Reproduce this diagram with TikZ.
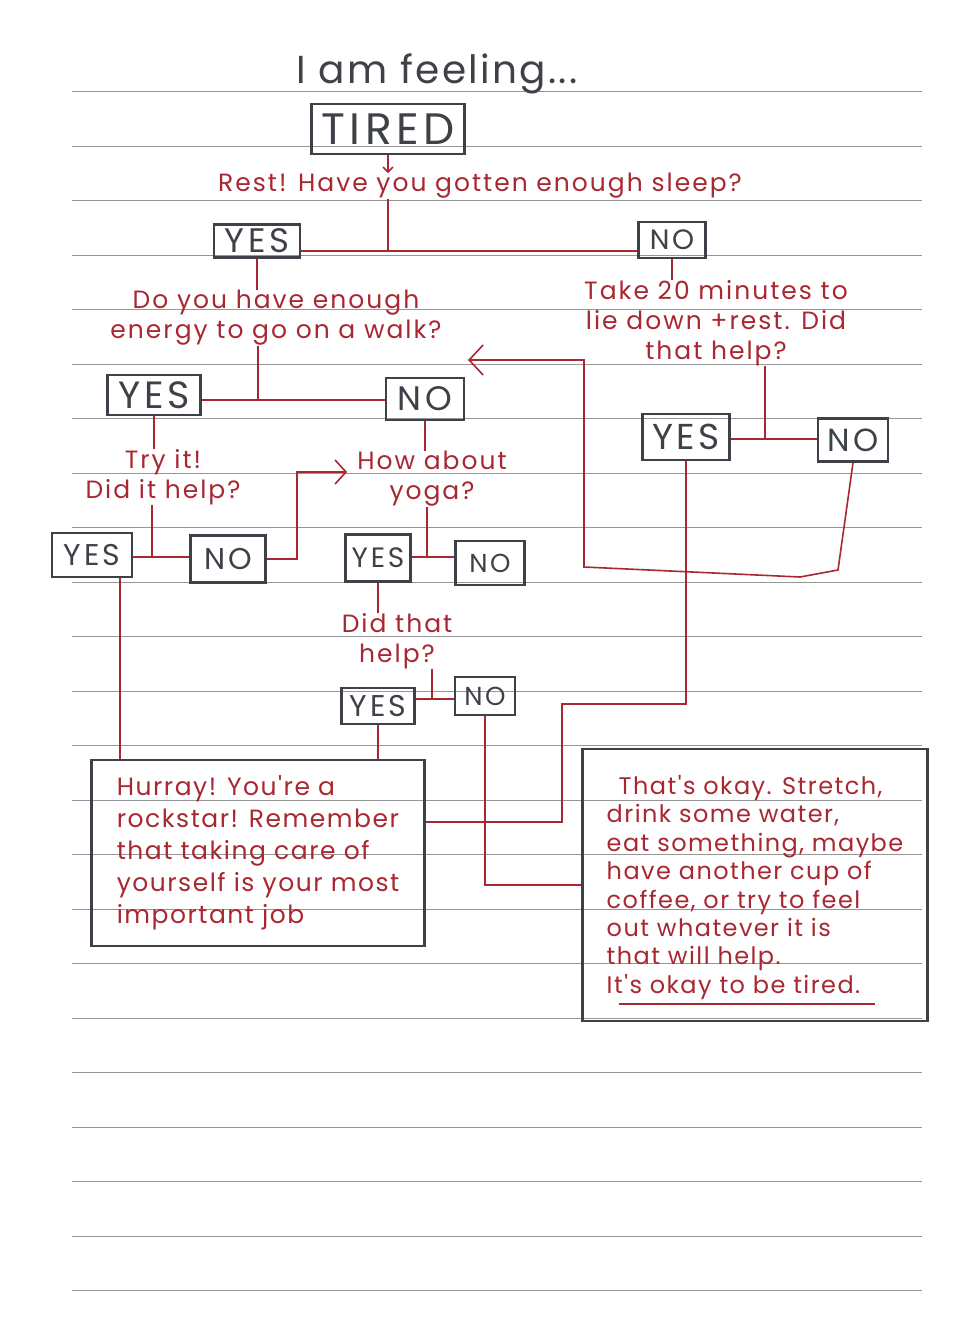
\documentclass[tikz,border=0pt]{standalone}
\usepackage{fontspec}
\setmainfont{Poppins}
\newfontfamily\hand[LetterSpace=8]{Poppins}
\newfontfamily\handnote[LetterSpace=6]{Poppins}
\newfontfamily\handcaps[LetterSpace=10]{Poppins}
\usetikzlibrary{arrows.meta}
\definecolor{inkred}{RGB}{168,40,50}
\definecolor{boxgray}{RGB}{62,66,72}
\definecolor{rulegray}{RGB}{150,150,150}
\newcommand{\pick}[7][34]{%
  \node[box,minimum width=#5pt,minimum height=#6pt,
    font=\handcaps\fontsize{#1}{#1}\selectfont] (#2) at (#3,#4) {#7};}

\begin{document}
\begin{tikzpicture}[x=1pt,y=-1pt,
  box/.style={draw=boxgray,line width=2.6pt,text=boxgray,inner sep=0pt},
  ask/.style={text=inkred,align=center,inner sep=0pt,
    font=\hand\fontsize{25}{30}\selectfont},
  note/.style={draw=boxgray,line width=2.6pt,text=inkred,align=left,inner sep=0pt},
  link/.style={draw=inkred,line width=1.6pt},
  paper/.style={draw=rulegray,line width=0.8pt}]
  \useasboundingbox (0,0) rectangle (976,1333);
  \foreach \k in {0,...,22}
    {\draw[paper] (72,{91.5+\k*54.5}) -- (922,{91.5+\k*54.5});}

  \node[text=boxgray,font=\handnote\fontsize{39}{39}\selectfont] (title) at (437,74) {I am feeling...};
  \node[box,minimum width=153pt,minimum height=50pt,font=\handcaps\fontsize{44}{44}\selectfont]
    (tired) at (388,129) {TIRED};

  \node[ask] (q1) at (480,186) {Rest! Have you gotten enough sleep?};
  \node[ask] (q2) at (276,318) {Do you have enough\\energy to go on a walk?};
  \node[ask] (q3) at (716,323) {Take 20 minutes to\\lie down +rest. Did\\that help?};
  \node[ask] (q4) at (163,477) {Try it!\\Did it help?};
  \node[ask] (q5) at (432,479) {How about\\yoga?};
  \node[ask] (q6) at (397,641) {Did that\\help?};

  \pick{yes1}{257}{241}{86}{33}{YES}
  \pick[28]{no1}{672}{240}{67}{36}{NO}
  \pick[38]{yes2}{154}{395}{93}{40}{YES}
  \pick{no2}{425}{399}{78}{42}{NO}
  \pick[36]{yes3}{686}{437}{87}{46}{YES}
  \pick[32]{no3}{853}{440}{70}{43}{NO}
  \pick[30]{yes4}{92}{555}{80}{44}{YES}
  \pick[30]{no4}{228}{559}{75}{47}{NO}
  \pick[28]{yes5}{378}{558}{65}{47}{YES}
  \pick[26]{no5}{490}{563}{69}{44}{NO}
  \pick[30]{yes6}{378}{706}{73}{36}{YES}
  \pick[26]{no6}{485}{696}{60}{38}{NO}

  \node[note,minimum width=333pt,minimum height=186pt,
    font=\handnote\fontsize{25}{32}\selectfont] (hurray) at (258,853)
    {Hurray! You're a\\rockstar! Remember\\that taking care of\\yourself is your most\\important job};
  \node[note,minimum width=345pt,minimum height=272pt,
    font=\handnote\fontsize{24}{28.4}\selectfont] (okay) at (755,885)
    {\rule{0pt}{29pt}\hspace*{12pt}That's okay. Stretch,\\drink some water,\\eat something, maybe\\have another cup of\\coffee, or try to feel\\out whatever it is\\that will help.\\It's okay to be tired.\\[-17pt]\hspace*{12pt}\rule{256pt}{2pt}};

  \coordinate (j1) at (388,251);
  \coordinate (j2) at (258,400);
  \coordinate (j3) at (765,439);
  \coordinate (j4) at (152,557);
  \coordinate (j5) at (427,557);
  \coordinate (j6) at (432,699);
  \coordinate (back) at (468,360);

  \draw[link,-{Straight Barb[length=5pt,width=10pt]}] (tired.south) -- (tired.south |- q1.north);
  \draw[link] (j1 |- q1.south) -- (j1);
  \draw[link] (yes1.east |- j1) -- (no1.west |- j1);
  \draw[link] (yes1.south) -- (yes1.south |- q2.north);
  \draw[link] (no1.south) -- (no1.south |- q3.north);
  \draw[link] (j2 |- q2.south) -- (j2);
  \draw[link] (yes2.east |- j2) -- (no2.west |- j2);
  \draw[link] (j3 |- q3.south) -- (j3);
  \draw[link] (yes3.east |- j3) -- (no3.west |- j3);
  \draw[link] (yes2.south) -- (yes2.south |- q4.north);
  \draw[link] (no2.south) -- (no2.south |- q5.north);
  \draw[link] (j4 |- q4.south) -- (j4);
  \draw[link] (yes4.east |- j4) -- (no4.west |- j4);
  \draw[link,-{Straight Barb[length=11pt,width=24pt]}] (no4.east) -- ++(30,0)
    |- ([xshift=-10pt,yshift=7pt]q5.west);
  \draw[link] (j5 |- q5.south) -- (j5);
  \draw[link] (yes5.east |- j5) -- (no5.west |- j5);
  \draw[link] (yes5.south) -- (yes5.south |- q6.north);
  \draw[link] (j6 |- q6.south) -- (j6);
  \draw[link] (yes6.east |- j6) -- (no6.west |- j6);
  \draw[link] (yes6.south) -- (yes6.south |- hurray.north);
  \draw[link] ([xshift=28pt]yes4.south) -- ([xshift=28pt]yes4.south |- hurray.north);
  \draw[link] (yes3.south) |- (562,704) |- ([yshift=31pt]hurray.east);
  \draw[link] (no6.south) |- (okay.west);
  \draw[link,-{Straight Barb[length=14pt,width=30pt]}] (no3.south) -- (838,570)
    -- (800,577) -- (584,567) -- (584,360) -- (back);
\end{tikzpicture}
\end{document}
